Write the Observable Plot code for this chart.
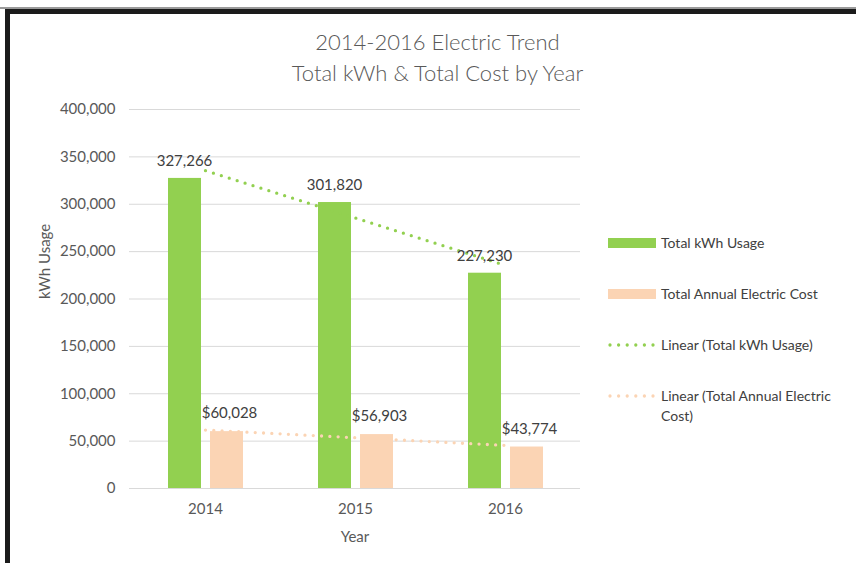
<!DOCTYPE html>
<html>
<head>
<meta charset="utf-8">
<script src="https://cdn.jsdelivr.net/npm/d3@7"></script>
<script src="https://cdn.jsdelivr.net/npm/@observablehq/plot@0.6"></script>
<style>
  html, body { margin: 0; padding: 0; background: #fff; }
  #wrap { position: relative; width: 856px; height: 563px; overflow: hidden; background: #fff; font-family: Lato, "Open Sans", sans-serif; }
  #frame { position: absolute; left: 5px; top: 9px; width: 900px; height: 600px; border-left: 5px solid #1b1b1b; border-top: 5px solid #1b1b1b; }
  #topline { position: absolute; left: 0; top: 7px; width: 856px; height: 2px; background: #9a9a9a; }
  #chart { position: absolute; left: 0; top: 0; }
  .title { position: absolute; left: 0; width: 875px; text-align: center; font-size: 22px; font-weight: 300; color: #595959; line-height: 31px; }
  #legend { position: absolute; left: 608px; top: 0; }
  .li { position: absolute; left: 0; display: flex; align-items: flex-start; width: 250px; }
  .li svg { flex: none; margin-top: 4px; }
  .li span { margin-left: 5px; width: 190px; font-size: 14px; line-height: 20px; color: #404040; }
</style>
</head>
<body>
<div id="wrap">
  <div id="topline"></div>
  <div id="frame"></div>
  <div id="chart"></div>
  <div class="title" style="top:26px">2014-2016 Electric Trend</div>
  <div class="title" style="top:57px">Total kWh &amp; Total Cost by Year</div>
  <div id="legend"></div>
</div>
<script>
const years = ["2014", "2015", "2016"];
const kwhUsage = [327266, 301820, 227230];
const annualCost = [60028, 56903, 43774];
const yTicks = [0, 50000, 100000, 150000, 200000, 250000, 300000, 350000, 400000];
const seriesNames = ["Total kWh Usage", "Total Annual Electric Cost", "Linear (Total kWh Usage)", "Linear (Total Annual Electric Cost)"];

const green = "#92D050";
const peach = "#FBD4B4";

function linearFit(vals) {
  const xs = vals.map((_, i) => i);
  const mx = d3.mean(xs), my = d3.mean(vals);
  const slope = d3.sum(xs, (x, i) => (x - mx) * (vals[i] - my)) / d3.sum(xs, x => (x - mx) ** 2);
  return xs.map(x => my + slope * (x - mx));
}
const kwhFit = linearFit(kwhUsage);
const costFit = linearFit(annualCost);

const rows = years.map((y, i) => ({year: y, kwh: kwhUsage[i], cost: annualCost[i], kwhFit: kwhFit[i], costFit: costFit[i]}));

const fmt = d3.format(",");

const dotted = {strokeWidth: 3.3, strokeDasharray: "0,8.3", strokeLinecap: "round"};

const chart = Plot.plot({
  width: 856,
  height: 563,
  marginLeft: 129,
  marginRight: 276,
  marginTop: 109,
  marginBottom: 75,
  style: {fontFamily: "Lato, 'Open Sans', sans-serif", fontSize: "15px", color: "#595959", background: "transparent"},
  x: {domain: years, padding: 0},
  y: {domain: [0, 400000]},
  marks: [
    Plot.gridY(yTicks, {stroke: "#D9D9D9", strokeOpacity: 1, strokeWidth: 1}),
    Plot.axisY(yTicks, {tickSize: 0, tickPadding: 14, tickFormat: fmt, label: null, fontSize: 15, fill: "#595959"}),
    Plot.axisX({tickSize: 0, tickPadding: 15, label: null, fontSize: 15, fill: "#595959"}),
    Plot.barY(rows, {x: "year", y: "kwh", fill: green, insetLeft: 38, insetRight: 79}),
    Plot.barY(rows, {x: "year", y: "cost", fill: peach, insetLeft: 80, insetRight: 37}),
    Plot.line(rows, {x: "year", y: "kwhFit", stroke: green, ...dotted}),
    Plot.line(rows, {x: "year", y: "costFit", stroke: peach, ...dotted}),
    Plot.text(rows, {x: "year", y: "kwh", text: d => fmt(d.kwh), dx: -21, dy: -17, fill: "#404040", fontSize: 15}),
    Plot.text(rows, {x: "year", y: "cost", text: d => "$" + fmt(d.cost), dx: 24, dy: -18, fill: "#404040", fontSize: 15}),
    Plot.text(["Year"], {frameAnchor: "bottom", dy: 53, fill: "#595959", fontSize: 15}),
    Plot.text(["kWh Usage"], {frameAnchor: "left", dx: -84, rotate: -90, fill: "#595959", fontSize: 15})
  ]
});
document.getElementById("chart").append(chart);

// Legend
const legend = d3.select("#legend");
const legendTops = [233, 284, 335, 386];
const swatches = [
  {type: "bar", color: green},
  {type: "bar", color: peach},
  {type: "dot", color: green},
  {type: "dot", color: peach}
];
seriesNames.forEach((name, i) => {
  const item = legend.append("div").attr("class", "li").style("top", legendTops[i] + "px");
  const svg = item.append("svg").attr("width", 48).attr("height", 12);
  if (swatches[i].type === "bar") {
    svg.append("rect").attr("x", 0).attr("y", 1).attr("width", 48).attr("height", 10).attr("fill", swatches[i].color);
  } else {
    svg.append("line").attr("x1", 2).attr("x2", 46).attr("y1", 6).attr("y2", 6)
      .attr("stroke", swatches[i].color).attr("stroke-width", 3.3)
      .attr("stroke-dasharray", "0,8.6").attr("stroke-linecap", "round");
  }
  item.append("span").text(name);
});
</script>
</body>
</html>
